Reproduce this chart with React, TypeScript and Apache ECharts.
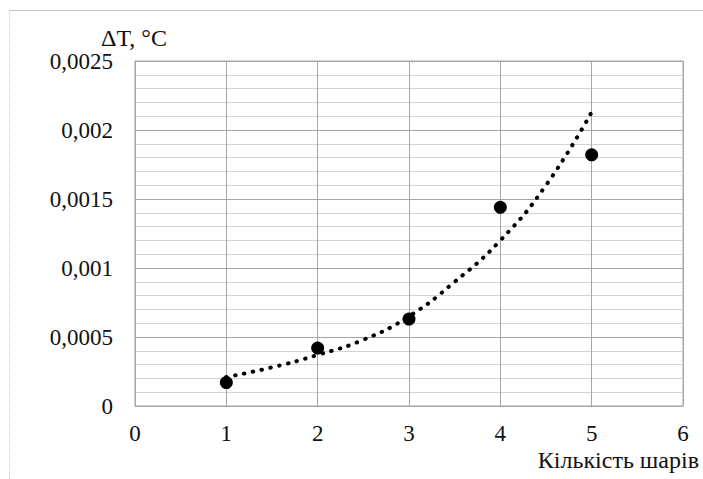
import React, { useEffect, useRef } from "react";
import * as echarts from "echarts";

const layers = [1, 2, 3, 4, 5];
const deltaT = [0.00017, 0.00042, 0.00063, 0.00144, 0.00182];
const trendX = [1, 1.5, 2, 2.5, 3, 3.5, 4, 4.5, 5];
const trendY = [0.00021, 0.00028, 0.00037, 0.00048, 0.00065, 0.0009, 0.0012, 0.0016, 0.00213];
const yTickLabels = ["0", "0,0005", "0,001", "0,0015", "0,002", "0,0025"];
const xTitle = "Кількість шарів";
const yTitle = "ΔT, °C";

const FONT = "Liberation Serif";

export default function App() {
  const ref = useRef<HTMLDivElement>(null);
  useEffect(() => {
    if (!ref.current) return;
    const chart = echarts.init(ref.current, undefined, { renderer: "svg" });
    chart.setOption({
      animation: false,
      backgroundColor: "#ffffff",
      textStyle: { fontFamily: FONT },
      grid: { left: 135, top: 61, width: 548, height: 345, show: true, borderColor: "#a6a6a6", borderWidth: 1 },
      xAxis: {
        type: "value",
        min: 0,
        max: 6,
        interval: 1,
        axisLine: { show: true, lineStyle: { color: "#a6a6a6" } },
        axisTick: { show: false },
        axisLabel: { color: "#111111", fontFamily: FONT, fontSize: 23, margin: 16 },
        splitLine: { show: true, lineStyle: { color: "#a6a6a6", width: 1 } },
      },
      yAxis: {
        type: "value",
        min: 0,
        max: 0.0025,
        interval: 0.0005,
        axisLine: { show: true, lineStyle: { color: "#a6a6a6" } },
        axisTick: { show: false },
        axisLabel: {
          color: "#111111",
          fontFamily: FONT,
          fontSize: 23,
          margin: 22,
          formatter: (v: number) => yTickLabels[Math.round(v / 0.0005)] ?? "",
        },
        splitLine: { show: true, lineStyle: { color: "#a6a6a6", width: 1 } },
        minorTick: { show: false, splitNumber: 5 },
        minorSplitLine: { show: true, lineStyle: { color: "#d4d4d4", width: 1 } },
      },
      series: [
        {
          type: "line",
          data: trendX.map((x, i) => [x, trendY[i]]),
          smooth: true,
          showSymbol: false,
          lineStyle: { color: "#000000", width: 4, type: [0.5, 8.5], cap: "round" },
          z: 2,
        },
        {
          type: "scatter",
          data: layers.map((x, i) => [x, deltaT[i]]),
          symbol: "circle",
          symbolSize: 13,
          itemStyle: { color: "#000000", opacity: 1 },
          z: 3,
        },
      ],
      graphic: [
        { type: "line", shape: { x1: 9, y1: 10.5, x2: 703, y2: 10.5 }, style: { stroke: "#c4c4c4", lineWidth: 1 } },
        { type: "line", shape: { x1: 9.5, y1: 10, x2: 9.5, y2: 479 }, style: { stroke: "#c4c4c4", lineWidth: 1, lineDash: [1, 1] } },
        {
          type: "text",
          x: 101,
          y: 38,
          style: { text: yTitle, fontFamily: FONT, fontSize: 24, fill: "#111111", textVerticalAlign: "middle" },
        },
        {
          type: "text",
          x: 699,
          y: 460,
          style: { text: xTitle, fontFamily: FONT, fontSize: 24, fill: "#111111", textAlign: "right", textVerticalAlign: "middle" },
        },
      ],
    });
    return () => chart.dispose();
  }, []);
  return <div ref={ref} style={{ position: "fixed", left: 0, top: 0, width: 703, height: 479 }} />;
}
